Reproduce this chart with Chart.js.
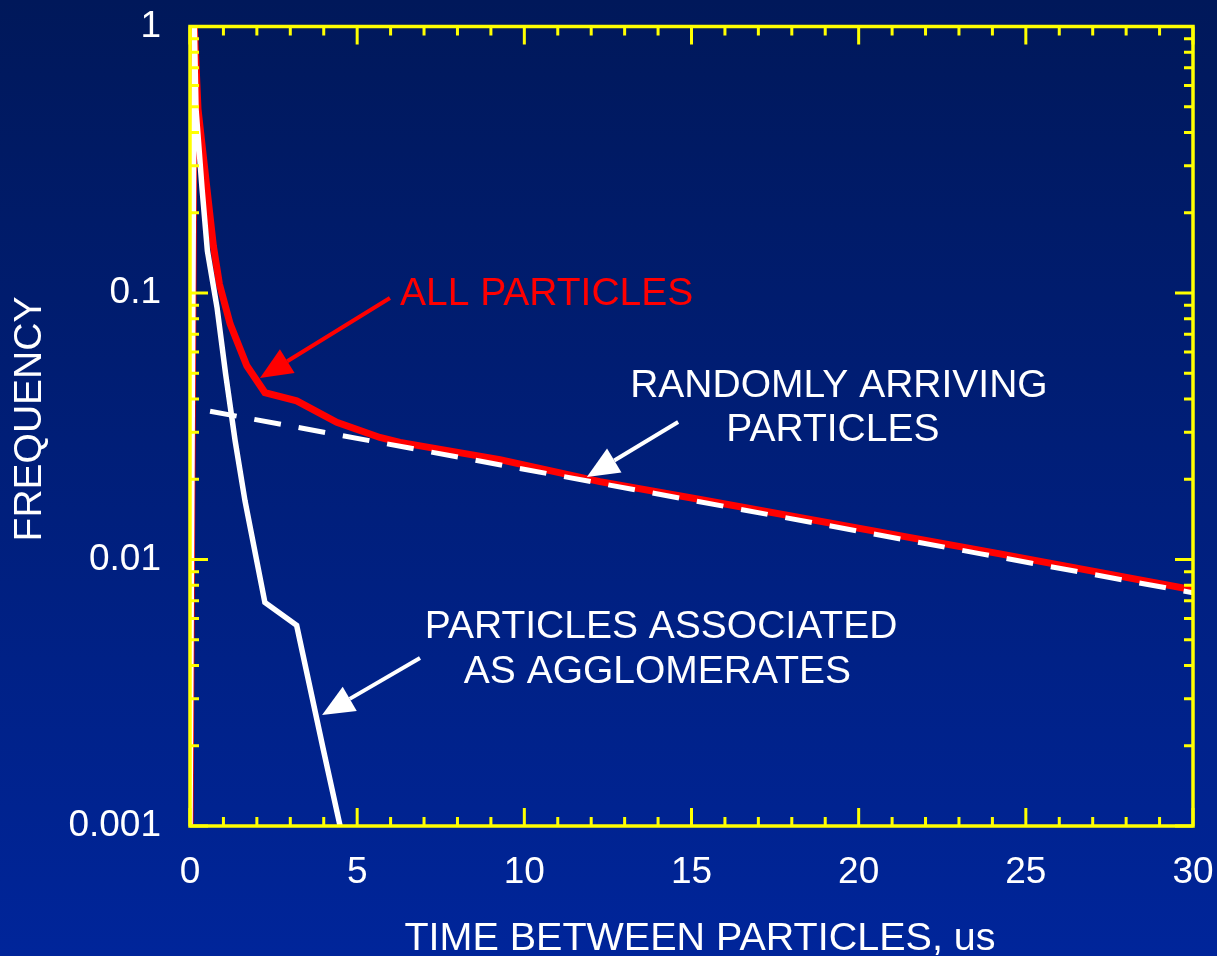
<!DOCTYPE html>
<html>
<head>
<meta charset="utf-8">
<title>Time between particles</title>
<script src="https://cdn.jsdelivr.net/npm/chart.js@4.4.1/dist/chart.umd.min.js"></script>
<style>
  html, body { margin: 0; padding: 0; background: #001f7a; }
  #wrap { width: 1217px; height: 956px; }
</style>
</head>
<body>
<div id="wrap"><canvas id="freqChart" width="1217" height="956"></canvas></div>
<script>
// time between particles (us) vs. frequency, three curves
var allTime = [0, 0.13, 0.24, 0.70, 0.88, 1.2, 1.70, 2.24, 3.19, 4.39, 5.68, 6.28, 9.27, 12.26, 15.26, 24.23, 30];
var allFreq = [0.001, 1.0, 0.49, 0.15, 0.108, 0.0766, 0.0533, 0.0423, 0.0394, 0.0327, 0.0287, 0.0275, 0.0237, 0.0196, 0.0168, 0.0105, 0.0077];

var randTime = [0.6, 6.49, 23.66, 30];
var randFreq = [0.036, 0.0263, 0.0105, 0.0075];

var aggTime = [0, 0.13, 0.18, 0.36, 0.52, 0.81, 1.065, 1.35, 1.645, 2.24, 3.19, 3.99, 4.49];
var aggFreq = [0.001, 1.0, 0.49, 0.247, 0.144, 0.088, 0.0497, 0.0279, 0.0166, 0.0069, 0.00566, 0.00193, 0.001];

var xTicks = [0, 5, 10, 15, 20, 25, 30];
var yTicks = [1, 0.1, 0.01, 0.001];
var yTickLabels = ['1', '0.1', '0.01', '0.001'];

var FONT = '"Liberation Sans", Arial, Helvetica, sans-serif';

function toPoints(xs, ys) {
    return xs.map(function(x, i) { return { x: x, y: ys[i] }; });
}

// arrow with a filled triangular head, from (x1,y1) to the tip (x2,y2)
function drawArrow(ctx, x1, y1, x2, y2, color) {
    var ang = Math.atan2(y2 - y1, x2 - x1);
    var headLen = 32, headHalf = 14;
    var bx = x2 - headLen * Math.cos(ang), by = y2 - headLen * Math.sin(ang);
    ctx.strokeStyle = color;
    ctx.fillStyle = color;
    ctx.lineWidth = 4;
    ctx.beginPath();
    ctx.moveTo(x1, y1);
    ctx.lineTo(bx, by);
    ctx.stroke();
    ctx.beginPath();
    ctx.moveTo(x2, y2);
    ctx.lineTo(bx + headHalf * Math.sin(ang), by - headHalf * Math.cos(ang));
    ctx.lineTo(bx - headHalf * Math.sin(ang), by + headHalf * Math.cos(ang));
    ctx.closePath();
    ctx.fill();
}

var framePlugin = {
    id: 'frame',
    beforeDraw: function(chart) {
        var ctx = chart.ctx;
        var g = ctx.createLinearGradient(0, 0, 0, chart.height);
        g.addColorStop(0, '#00185a');
        g.addColorStop(1, '#00259a');
        ctx.save();
        ctx.fillStyle = g;
        ctx.fillRect(0, 0, chart.width, chart.height);
        ctx.restore();
    },
    afterDatasetsDraw: function(chart) {
        var ctx = chart.ctx, a = chart.chartArea;
        var xs = chart.scales.x, ys = chart.scales.y;
        var px = function(t) { return xs.getPixelForValue(t); };
        var py = function(v) { return ys.getPixelForValue(v); };

        ctx.save();
        ctx.strokeStyle = '#ffff00';
        ctx.lineWidth = 3;
        ctx.beginPath();
        // inward ticks top and bottom: every 1 us, long ones every 5
        for (var t = 0; t <= 30; t++) {
            var x = px(t);
            var len = t % 5 === 0 ? 18 : 9;
            ctx.moveTo(x, a.top); ctx.lineTo(x, a.top + len);
            ctx.moveTo(x, a.bottom); ctx.lineTo(x, a.bottom - len);
        }
        // inward ticks left and right: decades long, 2..9 short
        for (var d = 0.001; d < 1.5; d *= 10) {
            for (var m = 1; m <= 9; m++) {
                var v = m * d;
                if (v > 1.0001) break;
                var y = py(v);
                var l = m === 1 ? 18 : 9;
                ctx.moveTo(a.left, y); ctx.lineTo(a.left + l, y);
                ctx.moveTo(a.right, y); ctx.lineTo(a.right - l, y);
            }
        }
        ctx.stroke();
        ctx.lineWidth = 3.5;
        ctx.strokeRect(a.left, a.top, a.right - a.left, a.bottom - a.top);

        // curve labels and pointers
        ctx.font = '39px ' + FONT;
        ctx.textBaseline = 'alphabetic';

        ctx.fillStyle = '#ff0000';
        ctx.textAlign = 'left';
        ctx.fillText('ALL PARTICLES', px(6.28), py(0.0901));
        drawArrow(ctx, px(5.98), py(0.0958), px(2.094), py(0.048), '#ff0000');

        ctx.fillStyle = '#ffffff';
        ctx.textAlign = 'center';
        ctx.fillText('RANDOMLY ARRIVING', px(19.41), py(0.0407));
        ctx.fillText('PARTICLES', px(19.23), py(0.0278));
        drawArrow(ctx, px(14.6), py(0.0328), px(11.87), py(0.0204), '#ffffff');

        ctx.fillStyle = '#ffffff';
        ctx.fillText('PARTICLES ASSOCIATED', px(14.09), py(0.00507));
        ctx.fillText('AS AGGLOMERATES', px(13.98), py(0.00344));
        drawArrow(ctx, px(6.88), py(0.00427), px(3.95), py(0.00261), '#ffffff');

        // axis titles
        ctx.font = '39.5px ' + FONT;
        ctx.fillStyle = '#ffffff';
        ctx.textAlign = 'center';
        ctx.fillText('TIME BETWEEN PARTICLES, us', 700, 950);
        ctx.font = '39px ' + FONT;
        ctx.translate(41, 419);
        ctx.rotate(-Math.PI / 2);
        ctx.fillText('FREQUENCY', 0, 0);
        ctx.restore();
    }
};

var ctx = document.getElementById('freqChart').getContext('2d');

var chart = new Chart(ctx, {
    type: 'line',
    data: {
        datasets: [{
            label: 'Randomly arriving particles',
            data: toPoints(randTime, randFreq),
            borderColor: '#ffffff',
            borderWidth: 5,
            borderDash: [27, 18],
            pointRadius: 0,
            order: 0
        }, {
            label: 'Particles associated as agglomerates',
            data: toPoints(aggTime, aggFreq),
            borderColor: '#ffffff',
            borderWidth: 5.5,
            pointRadius: 0,
            order: 1
        }, {
            label: 'All particles',
            data: toPoints(allTime, allFreq),
            borderColor: '#ff0000',
            borderWidth: 7,
            pointRadius: 0,
            order: 2
        }]
    },
    options: {
        responsive: false,
        animation: false,
        layout: { padding: { top: 26.5, right: 24, left: 0, bottom: 0 } },
        plugins: {
            legend: { display: false },
            tooltip: { enabled: false }
        },
        scales: {
            x: {
                type: 'linear',
                min: 0,
                max: 30,
                afterFit: function(s) {
                    s.height = 130;
                    s.paddingLeft = 0;
                    s.paddingRight = 0;
                },
                afterBuildTicks: function(s) { s.ticks = xTicks.map(function(v) { return { value: v }; }); },
                grid: { display: false, drawTicks: false },
                border: { display: false },
                ticks: {
                    color: '#ffffff',
                    font: { family: FONT, size: 37 },
                    padding: 25,
                    maxRotation: 0,
                    autoSkip: false
                }
            },
            y: {
                type: 'logarithmic',
                min: 0.001,
                max: 1,
                afterFit: function(s) {
                    s.width = 190;
                    s.paddingTop = 0;
                    s.paddingBottom = 0;
                },
                afterBuildTicks: function(s) { s.ticks = yTicks.map(function(v) { return { value: v }; }); },
                grid: { display: false, drawTicks: false },
                border: { display: false },
                ticks: {
                    color: '#ffffff',
                    font: { family: FONT, size: 37 },
                    padding: 29,
                    autoSkip: false,
                    callback: function(value, index) { return yTickLabels[index]; }
                }
            }
        }
    },
    plugins: [framePlugin]
});
</script>
</body>
</html>
